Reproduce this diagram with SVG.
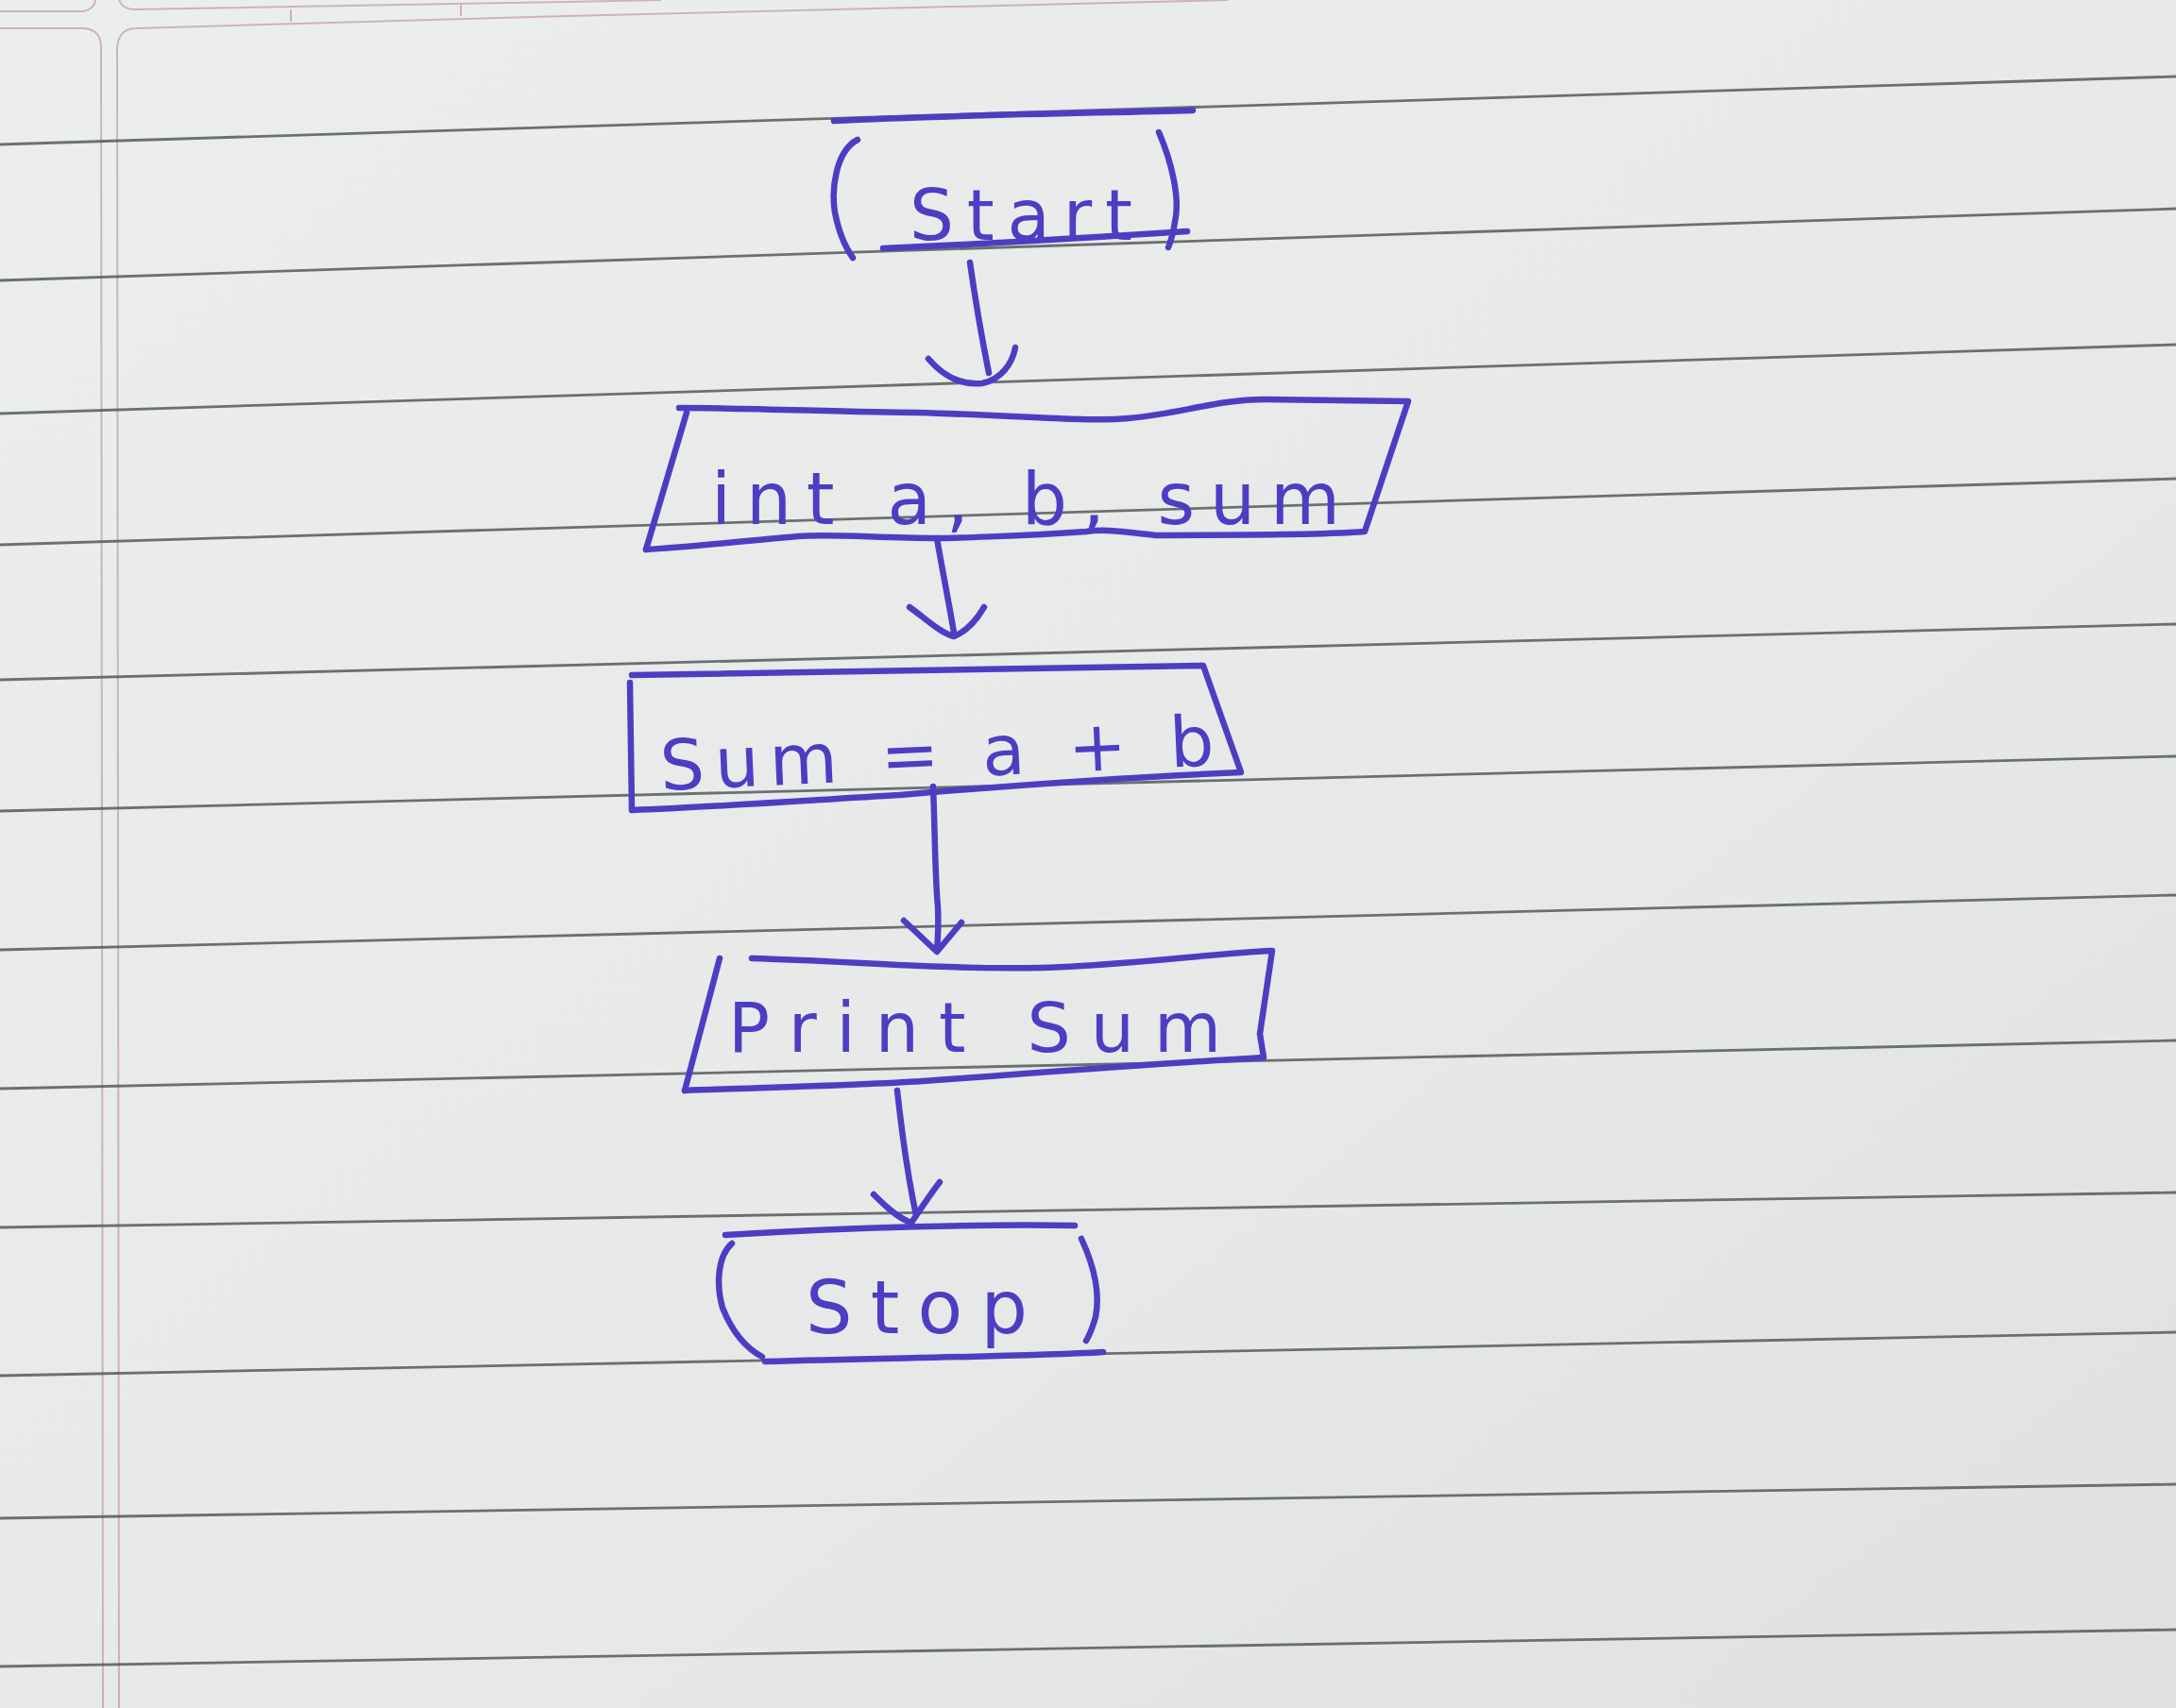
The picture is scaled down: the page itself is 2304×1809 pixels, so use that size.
<svg xmlns="http://www.w3.org/2000/svg" width="2304" height="1809" viewBox="0 0 2304 1809">
  <defs>
    <linearGradient id="paper" x1="0" y1="0" x2="1" y2="1">
      <stop offset="0" stop-color="#eceeee"/>
      <stop offset="0.6" stop-color="#e7e9e9"/>
      <stop offset="1" stop-color="#dfe1e1"/>
    </linearGradient>
  </defs>
  <style>
    .rule { stroke: #55595b; stroke-width: 2.8; fill: none; opacity: 0.85; }
    .pink { stroke: #c7a3ad; stroke-width: 2; fill: none; opacity: 0.8; }
    .ink { stroke: #4e3dc3; stroke-width: 6.5; fill: none; stroke-linecap: round; stroke-linejoin: round; }
    .label { fill: #4e3dc3; font-family: "DejaVu Sans", "Liberation Sans", sans-serif; font-weight: 400; }
  </style>

  <!-- paper -->
  <rect x="0" y="0" width="2304" height="1809" fill="url(#paper)"/>
  <g id="paper-lines">
    <path class="pink" d="M0,12 L88,12 Q100,10 101,0"/>
    <path class="pink" d="M126,0 Q130,10 142,10 L600,2 L700,0"/>
    <path class="pink" d="M0,30 L90,30 Q107,32 107,50 L109,1809"/>
    <path class="pink" d="M126,1809 L124,50 Q126,30 144,30 L600,17 L1300,0"/>
    <path class="pink" d="M308,10 L308,23 M488,5 L488,17"/>
    <line class="rule" x1="0" y1="153" x2="2304" y2="81"/>
    <line class="rule" x1="0" y1="297" x2="2304" y2="221"/>
    <line class="rule" x1="0" y1="438" x2="2304" y2="365"/>
    <line class="rule" x1="0" y1="577" x2="2304" y2="507"/>
    <line class="rule" x1="0" y1="720" x2="2304" y2="661"/>
    <line class="rule" x1="0" y1="859" x2="2304" y2="801"/>
    <line class="rule" x1="0" y1="1006" x2="2304" y2="948"/>
    <line class="rule" x1="0" y1="1153" x2="2304" y2="1102"/>
    <line class="rule" x1="0" y1="1300" x2="2304" y2="1263"/>
    <line class="rule" x1="0" y1="1457" x2="2304" y2="1411"/>
    <line class="rule" x1="0" y1="1608" x2="2304" y2="1572"/>
    <line class="rule" x1="0" y1="1765" x2="2304" y2="1726"/>
  </g>

  <!-- nodes -->
  <g id="node-start">
    <path class="ink" d="M883,128 C1000,122 1150,120 1263,117"/>
    <path class="ink" d="M908,148 C885,160 880,200 884,225 C888,245 895,262 903,273"/>
    <path class="ink" d="M1227,140 C1240,170 1250,210 1244,235 C1242,248 1240,255 1237,262"/>
    <path class="ink" d="M935,263 C1050,258 1150,252 1257,245"/>
    <text class="label" x="963" y="254" font-size="74" textLength="236" lengthAdjust="spacing">Start</text>
  </g>

  <g id="node-declare">
    <path class="ink" d="M684,582 L727,437"/>
    <path class="ink" d="M719,432 C800,432 900,437 971,437 C1080,440 1150,447 1195,443 C1250,438 1290,423 1339,423 L1491,425 L1445,563 C1380,568 1260,566 1224,567 C1190,563 1170,560 1150,563 C1080,568 1000,570 994,570 C930,570 880,565 845,568 C780,574 720,580 684,582"/>
    <text class="label" x="753" y="555" font-size="76" textLength="666" lengthAdjust="spacing">int a, b, sum</text>
  </g>

  <g id="node-process">
    <path class="ink" d="M669,858 L667,723"/>
    <path class="ink" d="M669,715 C850,712 1050,708 1274,705 L1314,818 C1150,825 1000,838 952,842 C850,848 750,855 669,858"/>
    <text class="label" x="700" y="837" font-size="74" textLength="587" lengthAdjust="spacing" transform="rotate(-2.6 700 837)">Sum = a + b</text>
  </g>

  <g id="node-output">
    <path class="ink" d="M762,1015 L725,1155"/>
    <path class="ink" d="M796,1015 C900,1018 1000,1027 1102,1025 C1200,1022 1280,1010 1347,1007 L1334,1095 L1338,1120 C1200,1128 1050,1140 977,1145 C900,1150 800,1152 725,1155"/>
    <text class="label" x="771" y="1114" font-size="73" textLength="522" lengthAdjust="spacing">Print Sum</text>
  </g>

  <g id="node-stop">
    <path class="ink" d="M768,1308 C900,1300 1050,1296 1138,1298"/>
    <path class="ink" d="M775,1317 C760,1330 758,1360 765,1385 C775,1410 790,1428 807,1437"/>
    <path class="ink" d="M1145,1312 C1158,1340 1165,1370 1160,1395 C1157,1405 1155,1412 1150,1420"/>
    <path class="ink" d="M810,1442 C950,1438 1080,1437 1168,1432"/>
    <text class="label" x="853" y="1412" font-size="78" textLength="235" lengthAdjust="spacing">Stop</text>
  </g>

  <!-- connectors -->
  <g id="connectors">
    <path class="ink" d="M1027,278 C1033,320 1040,360 1047,395"/>
    <path class="ink" d="M983,380 C1000,400 1020,408 1040,406 C1060,402 1072,385 1075,368"/>

    <path class="ink" d="M992,570 C998,605 1005,640 1010,670"/>
    <path class="ink" d="M963,643 C980,655 995,670 1010,674 C1025,668 1035,655 1042,643"/>

    <path class="ink" d="M988,833 C990,880 990,930 993,960 C994,980 993,995 992,1007"/>
    <path class="ink" d="M957,975 L992,1008 L1018,977"/>

    <path class="ink" d="M950,1155 C955,1200 962,1250 970,1287"/>
    <path class="ink" d="M925,1265 C935,1275 950,1290 965,1295 C975,1280 985,1265 995,1252"/>
  </g>
</svg>
